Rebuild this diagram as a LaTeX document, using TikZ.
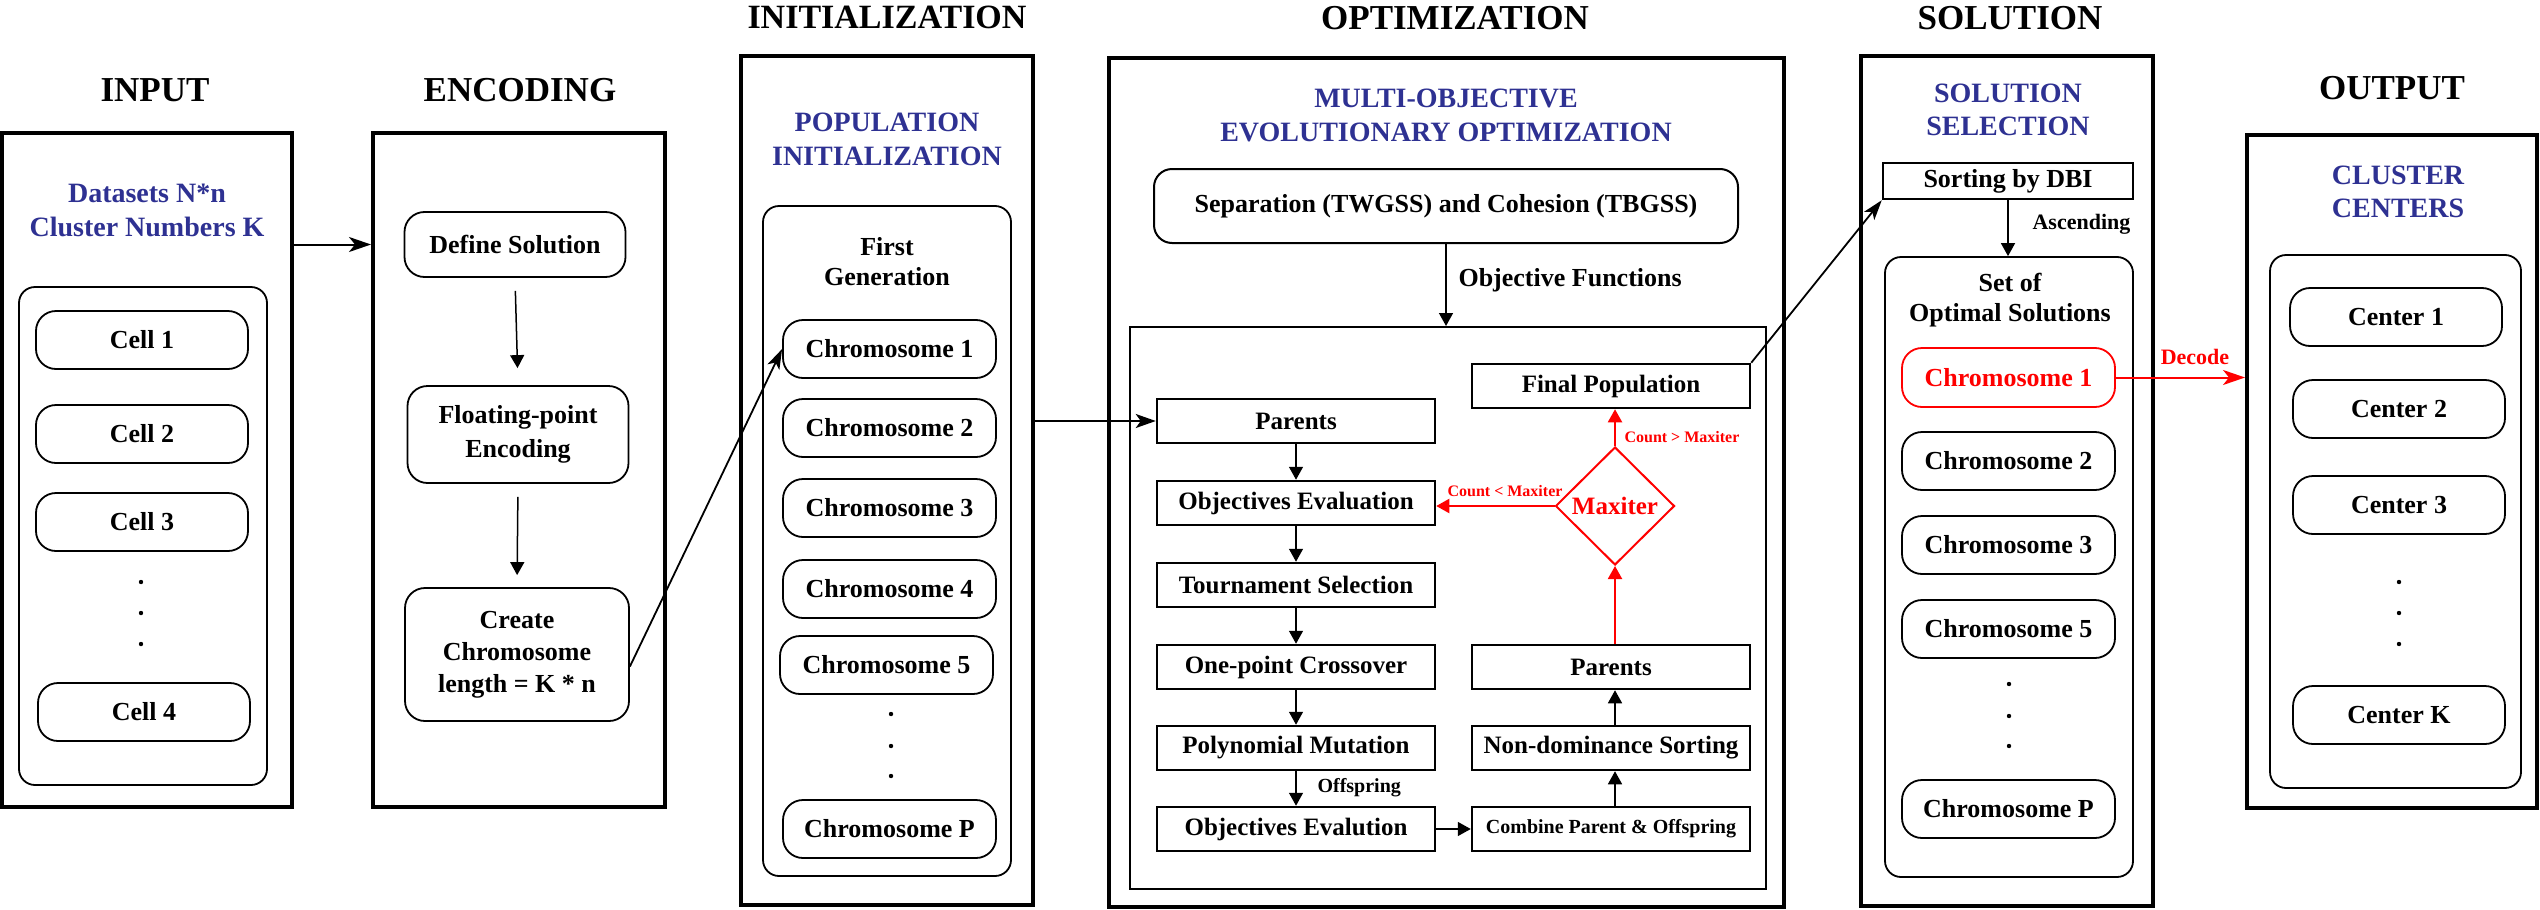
\documentclass[tikz,border=0pt]{standalone}
\usepackage{fontspec}
\setmainfont{Liberation Serif}
\usetikzlibrary{arrows.meta,shapes.geometric,calc}
\definecolor{tblue}{HTML}{2E3192}
\definecolor{tred}{HTML}{FF0000}
\newcommand{\myfs}[2]{\fontsize{#1}{#2}\selectfont\bfseries}
\begin{document}
\begin{tikzpicture}[x=1pt,y=-1pt,
  bigbox/.style={draw, line width=4pt, inner sep=0pt},
  cont/.style={draw, line width=1.8pt, rounded corners=16pt, inner sep=0pt},
  rbox/.style={draw, line width=1.8pt, rounded corners=20pt, inner sep=0pt, align=center, font=\myfs{26}{32}},
  fbox/.style={draw, line width=2.5pt, minimum width=278pt, minimum height=44pt, inner sep=0pt, font=\myfs{25}{30}},
  ttl/.style={font=\myfs{35}{40}},
  sub/.style={font=\myfs{28}{34}, text=tblue, align=center},
  lbl/.style={font=\myfs{26}{30}, align=center},
  tarr/.style={-{Triangle[length=13pt,width=14pt]}, line width=1.5pt},
  rarr/.style={-{Triangle[length=13pt,width=14pt]}, line width=2pt, draw=tred, color=tred},
  sarr/.style={-{Stealth[length=22pt,width=15pt,inset=6pt]}, line width=2pt},
  cbox/.style={rbox, minimum width=213pt, minimum height=58pt},
]
\useasboundingbox (0,0) rectangle (2540,910);

% ---------------- INPUT
\node[ttl] (tin) at (155,90) {INPUT};
\node[bigbox, minimum width=290pt, minimum height=674pt] (inbox) at (147,470) {};
\node[sub] (dset) at (147,210) {Datasets N*n\\Cluster Numbers K};
\node[cont, minimum width=248pt, minimum height=498pt] (incont) at (143,536) {};
\node[cbox, minimum width=212pt] (cell1) at (142,340) {Cell 1};
\node[cbox, minimum width=212pt] (cell2) at (142,434) {Cell 2};
\node[cbox, minimum width=212pt] (cell3) at (142,522) {Cell 3};
\node[cbox, minimum width=212pt] (cell4) at (144,712) {Cell 4};
\foreach \y in {582,613,644} \fill (141,\y) circle (2.2pt);

% ---------------- ENCODING
\node[ttl] (tenc) at (520,90) {ENCODING};
\node[bigbox, minimum width=292pt, minimum height=674pt] (encbox) at (519,470) {};
\node[rbox, minimum width=221pt, minimum height=65pt] (def) at (515,244.5) {Define Solution};
\node[rbox, minimum width=221pt, minimum height=97pt, font=\myfs{26}{34}] (float) at (518,434.5) {Floating-point\\Encoding};
\node[rbox, minimum width=224pt, minimum height=133pt] (create) at (517,654.5) {Create\\Chromosome\\length = K * n};

% ---------------- INITIALIZATION
\node[ttl, font=\myfs{34}{40}] (tinit) at (887,17) {INITIALIZATION};
\node[bigbox, minimum width=292pt, minimum height=849pt] (initbox) at (887,480.5) {};
\node[sub] (popi) at (887,139) {POPULATION\\INITIALIZATION};
\node[cont, minimum width=248pt, minimum height=670pt] (initcont) at (887,541) {};
\node[lbl] (firstg) at (887,262) {First\\Generation};
\node[cbox] (ichr1) at (889.5,349) {Chromosome 1};
\node[cbox] (ichr2) at (889.5,428) {Chromosome 2};
\node[cbox] (ichr3) at (889.5,508) {Chromosome 3};
\node[cbox] (ichr4) at (889.5,589) {Chromosome 4};
\node[cbox] (ichr5) at (886.5,665) {Chromosome 5};
\foreach \y in {714,746,776} \fill (891,\y) circle (2.2pt);
\node[cbox] (ichrP) at (889.5,829) {Chromosome P};

% ---------------- OPTIMIZATION
\node[ttl] (topt) at (1455,18) {OPTIMIZATION};
\node[bigbox, minimum width=675pt, minimum height=849pt] (optbox) at (1446.5,482.5) {};
\node[sub] (moeo) at (1446,115) {MULTI-OBJECTIVE\\EVOLUTIONARY OPTIMIZATION};
\node[rbox, rounded corners=18pt, line width=2pt, minimum width=584pt, minimum height=74pt] (sep) at (1446,206) {Separation (TWGSS) and Cohesion (TBGSS)};
\node[draw, line width=2pt, minimum width=636pt, minimum height=562pt, inner sep=0pt] (inner) at (1448,608) {};
\node[lbl, anchor=west] (objf) at (1455,280) {Objective Functions};

\node[fbox] (par) at (1296,421) {Parents};
\node[fbox] (objev) at (1296,503) {Objectives Evaluation};
\node[fbox] (tour) at (1296,585) {Tournament Selection};
\node[fbox] (cross) at (1296,667) {One-point Crossover};
\node[fbox] (poly) at (1296,748) {Polynomial Mutation};
\node[fbox] (objev2) at (1296,829) {Objectives Evalution};

\node[fbox] (final) at (1611,386) {Final Population};
\node[fbox] (parR) at (1611,667) {Parents};
\node[fbox] (nondom) at (1611,748) {Non-dominance Sorting};
\node[fbox, font=\myfs{20}{24}] (comb) at (1611,829) {Combine Parent \& Offspring};
\node[diamond, draw=tred, line width=2pt, minimum width=119pt, minimum height=118pt, inner sep=0pt, text=tred, font=\myfs{25}{30}] (dia) at (1615,506) {Maxiter};

% ---------------- SOLUTION
\node[ttl] (tsol) at (2010,18) {SOLUTION};
\node[bigbox, minimum width=292pt, minimum height=850pt] (solbox) at (2007,481) {};
\node[sub, font=\myfs{28}{33}] (solsel) at (2008,109.5) {SOLUTION\\SELECTION};
\node[draw, line width=2.5pt, minimum width=250pt, minimum height=36pt, inner sep=0pt, font=\myfs{26}{30}] (sort) at (2008,181) {Sorting by DBI};
\node[cont, minimum width=248pt, minimum height=620pt] (setc) at (2009,567) {};
\node[lbl] (setof) at (2010,300) {Set of\\Optimal Solutions};
\node[cbox, draw=tred, text=tred, minimum height=59pt] (schr1) at (2008.5,377.5) {Chromosome 1};
\node[cbox] (schr2) at (2008.5,461) {Chromosome 2};
\node[cbox] (schr3) at (2008.5,545) {Chromosome 3};
\node[cbox] (schr5) at (2008.5,629) {Chromosome 5};
\foreach \y in {684,716,746} \fill (2009,\y) circle (2.2pt);
\node[cbox] (schrP) at (2008.5,809) {Chromosome P};

% ---------------- OUTPUT
\node[ttl] (tout) at (2392,88) {OUTPUT};
\node[bigbox, minimum width=290pt, minimum height=673pt] (outbox) at (2392,471.5) {};
\node[sub, font=\myfs{28}{33}] (cc) at (2398,191.5) {CLUSTER\\CENTERS};
\node[cont, minimum width=251pt, minimum height=533pt] (outc) at (2395.5,521.5) {};
\node[cbox, minimum width=212pt] (cen1) at (2396,317) {Center 1};
\node[cbox, minimum width=212pt] (cen2) at (2399,409) {Center 2};
\node[cbox, minimum width=212pt] (cen3) at (2399,505) {Center 3};
\node[cbox, minimum width=212pt] (cenK) at (2399,715) {Center K};
\foreach \y in {582,613,644} \fill (2399,\y) circle (2.2pt);

% ---------------- connectors
\draw[sarr] (inbox.east |- def.center) -- (encbox.west |- def.center);
\draw[tarr, shorten <=13pt, shorten >=17pt] (def.south) -- (float.north);
\draw[tarr, shorten <=13pt, shorten >=12pt] (float.south) -- (create.north);
\draw[line width=1.8pt, -{Stealth[length=20pt,width=13pt,inset=5pt]}] ($(create.east)+(0,12)$) -- (ichr1.west);
\draw[line width=1.8pt, -{Stealth[length=20pt,width=14pt,inset=5pt]}] (initbox.east |- par.west) -- (par.west);

\draw[tarr] (sep.south) -- (sep.south |- inner.north);
\draw[tarr] (par.south) -- (objev.north);
\draw[tarr] (objev.south) -- (tour.north);
\draw[tarr] (tour.south) -- (cross.north);
\draw[tarr] (cross.south) -- (poly.north);
\draw[tarr] (poly.south) -- (objev2.north);
\node[font=\myfs{20}{24}, anchor=west] (offs) at (1314,788) {Offspring};
\draw[tarr] (objev2.east) -- (comb.west);
\draw[tarr] (comb.north -| dia.south) -- (nondom.south -| dia.south);
\draw[tarr] (nondom.north -| dia.south) -- (parR.south -| dia.south);
\draw[rarr] (parR.north -| dia.south) -- (dia.south);
\draw[rarr] (dia.north) -- (final.south -| dia.north);
\node[font=\myfs{16}{20}, text=tred, anchor=west] (cgt) at (1621,437) {Count > Maxiter};
\draw[rarr] (dia.west) -- (objev.east |- dia.west);
\node[font=\myfs{16}{20}, text=tred] (clt) at (1505,491) {Count < Maxiter};

\draw[line width=1.8pt, -{Stealth[length=20pt,width=13pt,inset=5pt]}] (final.north east) -- (sort.south west);
\draw[tarr] (sort.south) -- (sort.south |- setc.north);
\node[font=\myfs{22}{26}, anchor=west] (asc) at (2029,224) {Ascending};
\draw[sarr, draw=tred, color=tred] (schr1.east) -- (outbox.west |- schr1.east);
\node[font=\myfs{22}{26}, text=tred] (dec) at (2195,357) {Decode};
\end{tikzpicture}
\end{document}
